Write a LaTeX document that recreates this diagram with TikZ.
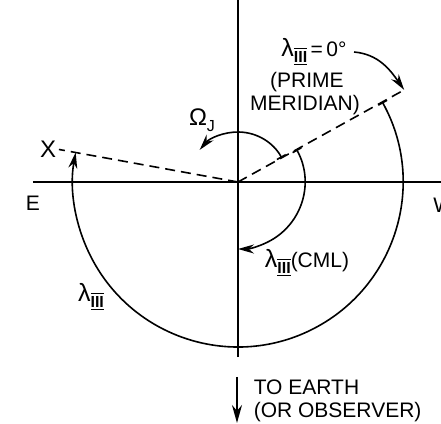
\documentclass[tikz,border=0pt]{standalone}
\usepackage{fontspec}
\setmainfont{Liberation Sans}
\usepackage{amsmath}
\usetikzlibrary{arrows.meta}
\newcommand{\romIII}{$\overline{\underline{\hbox{\bfseries III}}}$}
\newcommand{\subfnt}[1]{\raisebox{-3pt}{\fontsize{8}{8}\selectfont #1}}
\newcommand{\lamIII}{{\fontsize{12.5}{12}\selectfont λ}\subfnt{\romIII}}

\begin{document}
\begin{tikzpicture}[x=0.5pt, y=0.5pt, line width=0.8pt,
        font=\fontsize{10.5}{12}\selectfont,
        axis/.style={line width=1pt},
        meridian/.style={dash pattern=on 5pt off 3pt},
        angarc/.style={{Bar[width=5pt]}-{Stealth[length=8pt,width=4.5pt]}},
        txt/.style={anchor=base west, inner sep=0pt}]
        \useasboundingbox (-238,-242) rectangle (203,182);
        % ejes
        \coordinate (O) at (0,0);
        \draw[axis] (-205,0) -- (203,0);
        \draw[axis] (0,-175) -- (0,182);
        \node (lblE) at (-205,-21) {E};
        \node[anchor=west] (lblW) at (188,-23) {W};

        % meridiano origen y direccion X
        \coordinate (pm) at (29:190);
        \coordinate (xend) at (169.7:182);
        \draw[meridian] (O) -- (pm);
        \draw[meridian] (O) -- (xend);
        \node[anchor=east, inner sep=1pt, font=\fontsize{12}{12}\selectfont] (lblX) at (xend) {X};

        % arcos de longitud
        \draw[angarc] (29:165) arc[start angle=29, end angle=-190.3, radius=165];
        \draw[angarc] (29:50) arc[start angle=29, end angle=140, radius=50];
        \draw[angarc] (29:67) arc[start angle=29, end angle=-90, radius=67];

        \node (lam0) at (76,130) {\lamIII\,=\,0°};
        \node (prime) at (69,100) {(PRIME};
        \node (merid) at (67,77) {MERIDIAN)};
        \draw[-{Stealth[length=8pt,width=4.5pt]}] (lam0.east) to[out=-5, in=125] (pm);

        \node (omega) at (-36,62) {{\fontsize{12}{12}\selectfont Ω}\subfnt{J}};
        \node (cml) at (69,-81) {\lamIII(CML)};
        \node (lamarc) at (-147,-115) {\lamIII};

        % hacia la tierra
        \coordinate (earthtop) at (-1,-195);
        \coordinate (earthtip) at (-1,-241);
        \draw[-{Stealth[length=9pt,width=5pt]}] (earthtop) -- (earthtip);
        \node[txt] (toearth) at (15,-213) {TO EARTH};
        \node[txt] (observer) at (15,-235) {(OR OBSERVER)};
    \end{tikzpicture}
\end{document}
